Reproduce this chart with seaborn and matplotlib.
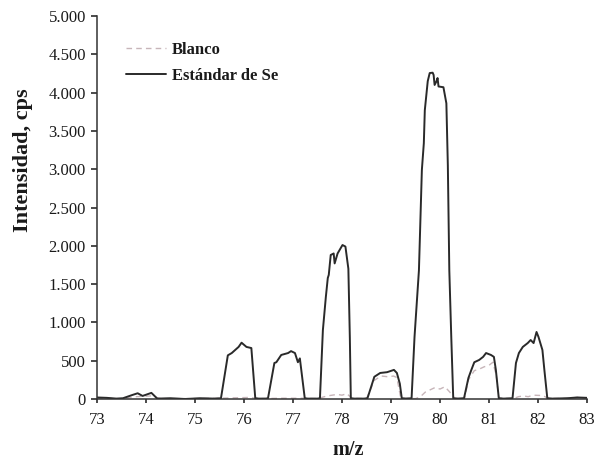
import numpy as np
import pandas as pd
import matplotlib
matplotlib.use("Agg")
import matplotlib.pyplot as plt
from matplotlib.ticker import FuncFormatter
import seaborn as sns

# ---- data ----
std_mz = [73.00, 73.20, 73.40, 73.53, 73.71, 73.83, 73.93, 74.11, 74.23, 74.50, 74.80, 75.10, 75.40, 75.53,
          75.67, 75.75, 75.89, 75.95, 76.05, 76.15, 76.23, 76.30, 76.45, 76.49,
          76.62, 76.66, 76.76, 76.90, 76.96, 77.04, 77.10, 77.14, 77.24, 77.30, 77.50, 77.55,
          77.61, 77.67, 77.71, 77.73, 77.77, 77.83, 77.85, 77.91, 78.01, 78.07, 78.13, 78.16, 78.18,
          78.25, 78.45, 78.52,
          78.66, 78.78, 78.92, 79.06, 79.12, 79.18, 79.22, 79.30, 79.42,
          79.48, 79.57, 79.63, 79.67, 79.69, 79.75, 79.79, 79.85, 79.87, 79.89, 79.93, 79.95, 79.97,
          80.07, 80.13, 80.16, 80.19, 80.23, 80.27, 80.35, 80.49,
          80.58, 80.64, 80.70, 80.80, 80.88, 80.94, 81.04, 81.10, 81.14, 81.20, 81.30, 81.48,
          81.55, 81.61, 81.69, 81.79, 81.85, 81.91, 81.97, 82.01, 82.09, 82.13, 82.19,
          82.30, 82.60, 82.80, 83.00]
std_val = [20, 15, 5, 10, 50, 75, 40, 80, 5, 10, 0, 10, 5, 10,
           570, 600, 680, 735, 680, 665, 10, 5, 5, 10,
           470, 480, 575, 600, 625, 600, 480, 530, 10, 5, 5, 10,
           900, 1330, 1580, 1620, 1880, 1900, 1770, 1900, 2010, 1990, 1700, 800, 10,
           5, 5, 10,
           290, 340, 350, 380, 340, 200, 10, 5, 10,
           810, 1680, 2990, 3340, 3770, 4150, 4255, 4260, 4230, 4100, 4150, 4190, 4080,
           4070, 3860, 3050, 1680, 810, 10, 5, 10,
           275, 380, 480, 510, 550, 600, 575, 550, 380, 10, 5, 10,
           470, 600, 680, 730, 770, 730, 875, 810, 640, 380, 10,
           5, 10, 20, 15]

blk_mz = [73.0, 73.5, 73.8, 74.1, 74.3, 75.0, 75.5, 75.8, 76.1, 76.3, 76.8, 77.2, 77.5,
          77.7, 77.9, 78.0, 78.1, 78.2, 78.5,
          78.6, 78.65, 78.8, 78.95, 79.05, 79.12, 79.2, 79.5,
          79.6, 79.7, 79.8, 79.9, 80.0, 80.1, 80.2, 80.3, 80.5,
          80.58, 80.7, 80.8, 80.9, 81.0, 81.08, 81.15, 81.2, 81.5,
          81.6, 81.7, 81.8, 81.9, 82.1, 82.2, 82.5, 82.8, 83.0]
blk_val = [10, 5, 30, 40, 5, 5, 10, 15, 20, 5, 10, 10, 5,
           40, 60, 50, 70, 10, 5,
           150, 240, 300, 290, 300, 280, 10, 5,
           30, 90, 120, 150, 130, 160, 90, 10, 5,
           250, 370, 390, 420, 440, 480, 300, 10, 5,
           30, 40, 30, 50, 45, 10, 5, 20, 10]

series_names = ["Blanco", "Estándar de Se"]
x_ticks = list(range(73, 84))
y_ticks = list(range(0, 5001, 500))

df_std = pd.DataFrame({"mz": std_mz, "val": std_val})
df_blk = pd.DataFrame({"mz": blk_mz, "val": blk_val})

sns.set_style("ticks")
plt.rcParams["font.family"] = ["Liberation Serif", "DejaVu Serif"]

W, H = 597, 463
x0, x1, y0, y1 = 97, 587, 16, 399
fig = plt.figure(figsize=(W / 100, H / 100), dpi=100)
ax = fig.add_axes([x0 / W, 1 - y1 / H, (x1 - x0) / W, (y1 - y0) / H])

sns.lineplot(data=df_blk, x="mz", y="val", ax=ax, sort=False, estimator=None,
             color="#c7b5b9", lw=1.0, linestyle=(0, (4, 3)), label=series_names[0])
sns.lineplot(data=df_std, x="mz", y="val", ax=ax, sort=False, estimator=None,
             color="#2a2a2a", lw=1.4, label=series_names[1])

ax.set_xlim(73, 83)
ax.set_ylim(0, 5000)
ax.set_xticks(x_ticks)
ax.set_yticks(y_ticks)
ax.yaxis.set_major_formatter(FuncFormatter(lambda v, p: f"{int(v):,}".replace(",", ".")))

for s in ["top", "right"]:
    ax.spines[s].set_visible(False)
for s in ["left", "bottom"]:
    ax.spines[s].set_color("#333333")
    ax.spines[s].set_linewidth(1.1)

ax.tick_params(axis="y", direction="out", length=4, width=1.1, labelsize=12, colors="#1a1a1a", pad=4)
ax.tick_params(axis="x", direction="out", length=3, width=1.1, labelsize=12, colors="#1a1a1a", pad=6)

ax.set_xlabel("m/z", fontsize=14.5, fontweight="bold", color="#1a1a1a")
ax.set_ylabel("Intensidad, cps", fontsize=16, fontweight="bold", color="#1a1a1a")
ax.xaxis.label.set_va("center")
ax.xaxis.set_label_coords((348 - x0) / (x1 - x0), (y1 - 450) / (y1 - y0))
ax.yaxis.set_label_coords((33 - x0) / (x1 - x0), (y1 - 160) / (y1 - y0))

leg = ax.legend(loc="upper left", bbox_to_anchor=((118 - x0) / (x1 - x0), (y1 - 34) / (y1 - y0)),
                frameon=False, borderpad=0, handlelength=2.35, handletextpad=0.4, labelspacing=0.55,
                prop={"size": 12, "weight": "bold"})
for t in leg.get_texts():
    t.set_color("#1a1a1a")

fig.savefig("out.png", dpi=100)
